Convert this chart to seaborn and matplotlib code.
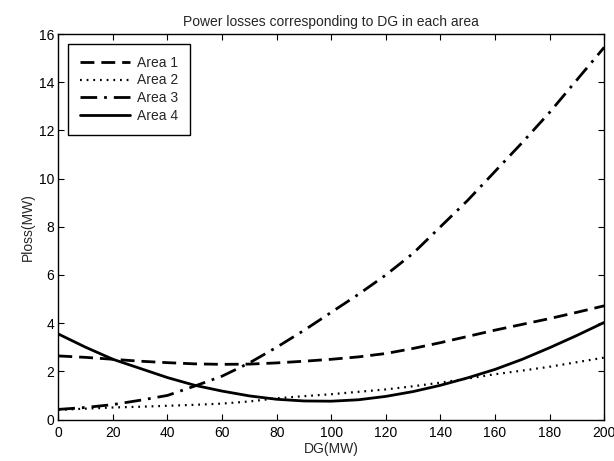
import numpy as np
import pandas as pd
import matplotlib
matplotlib.use("Agg")
import matplotlib.pyplot as plt
import seaborn as sns

# DG output in MW
dg = [0, 10, 20, 30, 40, 50, 60, 70, 80, 90, 100,
      110, 120, 130, 140, 150, 160, 170, 180, 190, 200]

# power losses (MW)
area1 = [2.64, 2.58, 2.50, 2.42, 2.36, 2.31, 2.29, 2.30, 2.35, 2.42, 2.50,
         2.60, 2.74, 2.95, 3.19, 3.45, 3.71, 3.95, 4.19, 4.45, 4.72]
area2 = [0.40, 0.45, 0.50, 0.53, 0.57, 0.61, 0.66, 0.75, 0.88, 0.97, 1.05,
         1.15, 1.25, 1.38, 1.53, 1.70, 1.88, 2.03, 2.19, 2.38, 2.57]
area3 = [0.42, 0.50, 0.62, 0.80, 1.00, 1.39, 1.80, 2.35, 3.00, 3.70, 4.45,
         5.20, 6.00, 6.90, 8.00, 9.10, 10.30, 11.50, 12.75, 14.10, 15.45]
area4 = [3.55, 3.00, 2.50, 2.12, 1.74, 1.42, 1.18, 0.98, 0.84, 0.77, 0.76,
         0.82, 0.96, 1.16, 1.42, 1.73, 2.08, 2.50, 2.98, 3.49, 4.03]

labels = ["Area 1", "Area 2", "Area 3", "Area 4"]
styles = [(0, (5, 2.5)), (0, (0.8, 2.2)), (0, (6, 2.5, 1, 2.5)), "-"]
widths = [2.0, 1.6, 2.0, 2.0]

sns.set_style("ticks")
plt.rcParams["font.family"] = ["Liberation Sans", "DejaVu Sans"]
plt.rcParams["xtick.direction"] = "in"
plt.rcParams["ytick.direction"] = "in"

fig = plt.figure(figsize=(6.14, 4.61), dpi=100)
ax = fig.add_axes([0.095, 0.09, 0.889, 0.836])

for lab, ys, ls, lw in zip(labels, [area1, area2, area3, area4], styles, widths):
    sns.lineplot(x=dg, y=ys, ax=ax, color="black", linestyle=ls,
                 linewidth=lw, label=lab)

ax.set_xlim(0, 200)
ax.set_ylim(0, 16)
ax.set_xticks(np.arange(0, 201, 20))
ax.set_yticks(np.arange(0, 17, 2))
ax.tick_params(top=True, right=True, length=4, width=0.8, labelsize=10,
               colors="black", pad=3)
ax.tick_params(axis="x", pad=5)
for s in ax.spines.values():
    s.set_visible(True)
    s.set_linewidth(1.0)
    s.set_color("black")

ax.set_title("Power losses corresponding to DG in each area", fontsize=10, pad=6)
ax.set_xlabel("DG(MW)", fontsize=10, labelpad=1)
ax.set_ylabel("Ploss(MW)", fontsize=10, labelpad=3)

leg = ax.legend(loc="upper left", fontsize=10, handlelength=3.6,
                handletextpad=0.5, borderpad=0.85, borderaxespad=0.7,
                labelspacing=0.27, fancybox=False, framealpha=1,
                edgecolor="black")
leg.get_frame().set_linewidth(1.0)

fig.savefig("out.png", dpi=100)
